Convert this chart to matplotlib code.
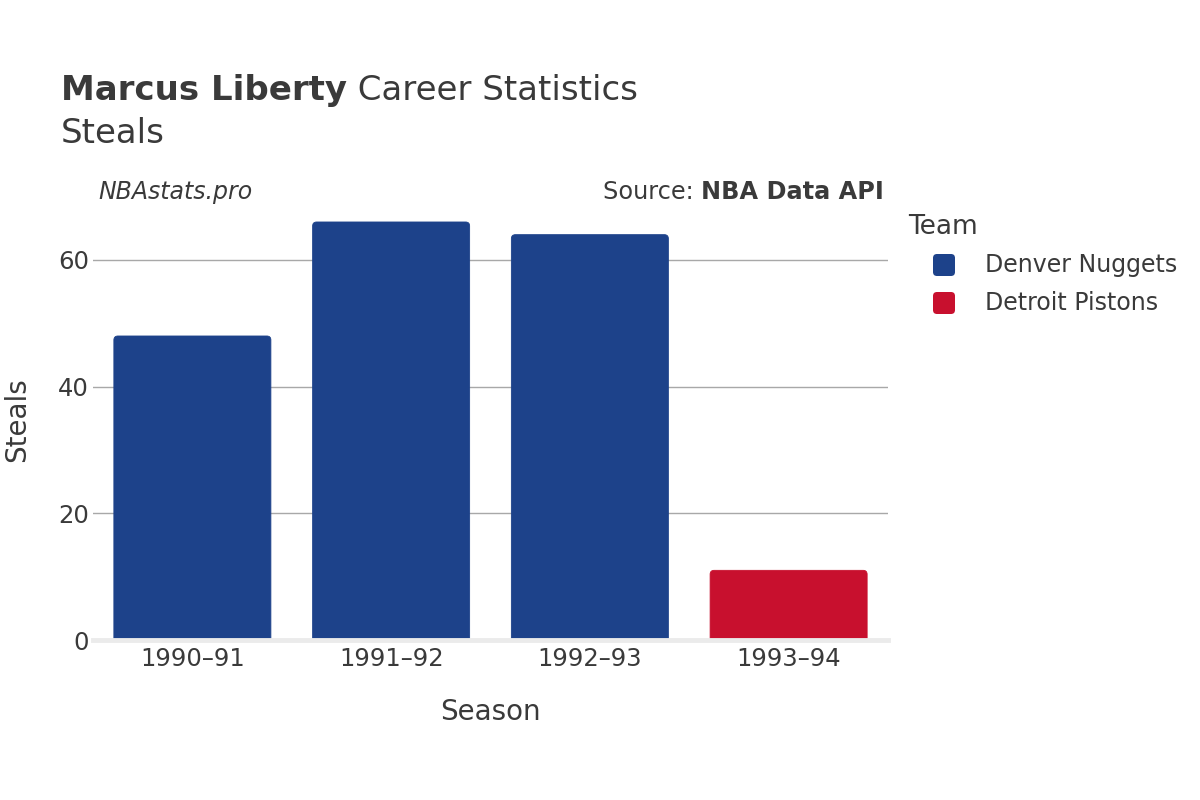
import matplotlib
matplotlib.use("Agg")
import matplotlib.pyplot as plt
from matplotlib.patches import FancyBboxPatch

seasons = ["1990–91", "1991–92", "1992–93", "1993–94"]
steals = [48, 66, 64, 11]
teams = ["Denver Nuggets", "Denver Nuggets", "Denver Nuggets", "Detroit Pistons"]
team_colors = {"Denver Nuggets": "#1d428a", "Detroit Pistons": "#c8102e"}
legend_teams = ["Denver Nuggets", "Detroit Pistons"]
yticks = [0, 20, 40, 60]

TXT = "#3a3a3a"
plt.rcParams["font.family"] = ["DejaVu Sans"]

W, H = 1200, 800
fig = plt.figure(figsize=(12, 8), dpi=100)

# plot area in pixels
L, R, T, B = 93, 888, 200, 640
ax = fig.add_axes([L / W, 1 - B / H, (R - L) / W, (B - T) / H])
ymax = max(steals) * 1.0526
ax.set_xlim(-0.5, len(seasons) - 0.5)
ax.set_ylim(0, ymax)

bars = ax.bar(range(len(seasons)), steals, width=0.79,
              color=[team_colors[t] for t in teams], zorder=2)

xpp = (len(seasons)) / (R - L)
ypp = ymax / (B - T)
aspect = ypp / xpp
rad = 4 * xpp
for b, t in zip(bars, teams):
    x0, w, h = b.get_x(), b.get_width(), b.get_height()
    b.set_visible(False)
    p = FancyBboxPatch((x0, -2), w, h + 2,
                       boxstyle=f"round,pad=0,rounding_size={rad}",
                       mutation_aspect=aspect, facecolor=team_colors[t],
                       edgecolor=team_colors[t], linewidth=0.6, zorder=2)
    ax.add_patch(p)

for s in ax.spines.values():
    s.set_visible(False)
ax.set_yticks(yticks)
ax.set_xticks(range(len(seasons)))
ax.set_xticklabels(seasons)
ax.tick_params(axis="both", length=0, labelsize=17.5, labelcolor=TXT)
ax.tick_params(axis="y", pad=3)
ax.tick_params(axis="x", pad=5)
for yv in yticks[1:]:
    ax.axhline(yv, color="#a8a8a8", linewidth=1, zorder=1)
ax.axhline(0, color="#ebebeb", linewidth=3.5, zorder=3, clip_on=False)

# overlay in pixel coordinates
ov = fig.add_axes([0, 0, 1, 1], facecolor="none")
ov.set_xlim(0, W)
ov.set_ylim(H, 0)
ov.axis("off")

TS = 24.5
ov.text(61, 100, "Marcus Liberty", fontsize=TS, fontweight="bold", color=TXT,
        va="baseline", ha="left")
fig.canvas.draw()
r = fig.canvas.get_renderer()
t0 = ov.texts[0]
bb = t0.get_window_extent(r)
ov.text(61 + bb.width, 100, " Career Statistics", fontsize=TS, color=TXT,
        va="baseline", ha="left")
ov.text(61, 143, "Steals", fontsize=TS, color=TXT, va="baseline", ha="left")

ov.text(98, 199, "NBAstats.pro", fontsize=17, style="italic", color=TXT,
        va="baseline", ha="left")
src_b = ov.text(884, 199, "NBA Data API", fontsize=17.3, fontweight="bold",
                color=TXT, va="baseline", ha="right")
fig.canvas.draw()
bb2 = src_b.get_window_extent(r)
ov.text(884 - bb2.width, 199, "Source: ", fontsize=17.3, color=TXT,
        va="baseline", ha="right")

ov.text(17, 420, "Steals", fontsize=20, color=TXT, rotation=90,
        va="center", ha="center")
ov.text(490, 712, "Season", fontsize=20, color=TXT, va="center", ha="center")

# legend
ov.text(908, 227, "Team", fontsize=19, color=TXT, va="center", ha="left")
for i, t in enumerate(legend_teams):
    cy = 265 + i * 38
    ov.add_patch(FancyBboxPatch((933, cy - 11), 22, 22,
                                boxstyle="round,pad=0,rounding_size=4",
                                facecolor=team_colors[t], edgecolor="none"))
    ov.text(985, cy, t, fontsize=17, color=TXT, va="center", ha="left")

fig.savefig("out.png", dpi=100, facecolor="white")
